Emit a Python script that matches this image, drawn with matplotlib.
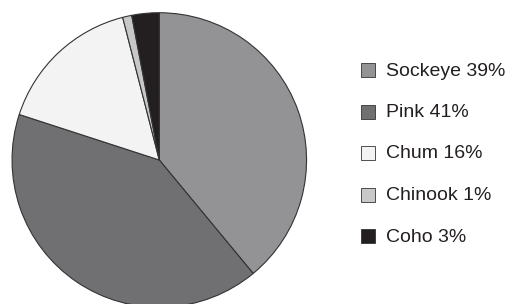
import matplotlib
matplotlib.use('Agg')
import matplotlib.pyplot as plt
from matplotlib.patches import Rectangle

# dados
especies = ['Sockeye', 'Pink', 'Chum', 'Chinook', 'Coho']
percentuais = [39, 41, 16, 1, 3]
cores = ['#939396', '#707073', '#f3f3f3', '#c8c8c8', '#231f20']

fig = plt.figure(figsize=(5.13, 3.04), dpi=100)

# pizza
ax = fig.add_axes([11.6 / 513, -3.7 / 304, 295.4 / 513, 295.4 / 304])
ax.pie(percentuais, colors=cores, startangle=90, counterclock=False,
       wedgeprops={'edgecolor': '#333333', 'linewidth': 0.8})
ax.set_xlim(-1.003, 1.003)
ax.set_ylim(-1.003, 1.003)
ax.set_aspect('equal')
ax.axis('off')

# legenda manual
y0 = 304 - 70
passo = 41.5
for i, (nome, p, c) in enumerate(zip(especies, percentuais, cores)):
    y = y0 - i * passo
    fig.patches.append(Rectangle((361 / 513, (y - 7) / 304), 14 / 513, 14 / 304,
                                 transform=fig.transFigure, facecolor=c,
                                 edgecolor='#333333', linewidth=0.6))
    fig.text(386 / 513, (y - 1) / 304, '%s %d%%' % (nome, p), va='center', ha='left',
             fontsize=14, color='#231f20', family='Liberation Sans')

fig.savefig('out.png', dpi=100)
